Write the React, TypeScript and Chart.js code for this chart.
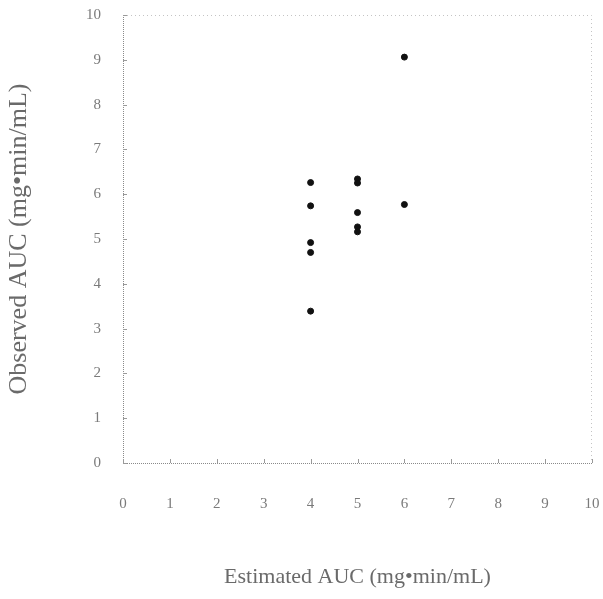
import React, { useEffect, useRef } from "react";
import { Chart, registerables } from "chart.js";

Chart.register(...registerables);

const estimatedAUC = [4, 4, 4, 4, 4, 5, 5, 5, 5, 5, 6, 6];
const observedAUC = [6.26, 5.74, 4.92, 4.7, 3.39, 6.34, 6.25, 5.59, 5.27, 5.16, 9.06, 5.77];
const xTicks = [0, 1, 2, 3, 4, 5, 6, 7, 8, 9, 10];
const yTicks = [0, 1, 2, 3, 4, 5, 6, 7, 8, 9, 10];
const xTitle = "Estimated AUC (mg\u2022min/mL)";
const yTitle = "Observed AUC (mg\u2022min/mL)";

const frame = {
  id: "frame",
  afterDatasetsDraw(chart: any) {
    const { ctx, chartArea, scales } = chart;
    const { left, right, top, bottom } = chartArea;
    ctx.save();
    ctx.lineWidth = 1;
    ctx.setLineDash([1, 1]);
    ctx.strokeStyle = "#8a8a8a";
    ctx.beginPath();
    ctx.moveTo(left + 0.5, top);
    ctx.lineTo(left + 0.5, bottom + 0.5);
    ctx.lineTo(right, bottom + 0.5);
    ctx.stroke();
    ctx.strokeStyle = "#c4c4c4";
    ctx.setLineDash([1, 3]);
    ctx.beginPath();
    ctx.moveTo(left, top + 0.5);
    ctx.lineTo(right - 0.5, top + 0.5);
    ctx.lineTo(right - 0.5, bottom);
    ctx.stroke();
    ctx.setLineDash([]);
    ctx.strokeStyle = "#9a9a9a";
    ctx.beginPath();
    xTicks.forEach((v) => {
      const px = Math.round(scales.x.getPixelForValue(v)) + 0.5;
      ctx.moveTo(px, bottom);
      ctx.lineTo(px, bottom - 4);
    });
    yTicks.forEach((v) => {
      const py = Math.round(scales.y.getPixelForValue(v)) + 0.5;
      ctx.moveTo(left, py);
      ctx.lineTo(left + 4, py);
    });
    ctx.stroke();
    ctx.restore();
  },
};

export default function App() {
  const ref = useRef<HTMLCanvasElement | null>(null);
  useEffect(() => {
    document.body.style.margin = "0";
    const canvas = ref.current;
    if (!canvas) return;
    const chart = new Chart(canvas, {
      type: "scatter",
      data: {
        datasets: [
          {
            data: estimatedAUC.map((x, i) => ({ x, y: observedAUC[i] })),
            backgroundColor: "#111",
            borderColor: "#111",
            pointRadius: 3,
            pointHoverRadius: 3,
          },
        ],
      },
      options: {
        animation: false,
        responsive: false,
        devicePixelRatio: 1,
        layout: { padding: { top: 15, right: 11, left: 0, bottom: 0 } },
        plugins: { legend: { display: false }, tooltip: { enabled: false } },
        scales: {
          x: {
            type: "linear",
            min: 0,
            max: 10,
            afterBuildTicks: (s: any) => {
              s.ticks = xTicks.map((v) => ({ value: v }));
            },
            afterFit: (s: any) => {
              s.height = 136;
              s.paddingLeft = 0;
              s.paddingRight = 0;
            },
            grid: { display: false, drawTicks: false },
            border: { display: false },
            ticks: {
              padding: 32,
              color: "#7a7a7a",
              font: { family: "'Liberation Serif', serif", size: 15 },
            },
            title: {
              display: true,
              text: xTitle,
              color: "#6a6a6a",
              font: { family: "'Liberation Serif', serif", size: 22, weight: "normal" },
              padding: { top: 0, bottom: 9 },
            },
          },
          y: {
            type: "linear",
            min: 0,
            max: 10,
            afterBuildTicks: (s: any) => {
              s.ticks = yTicks.map((v) => ({ value: v }));
            },
            afterFit: (s: any) => {
              s.width = 123;
              s.paddingTop = 0;
              s.paddingBottom = 0;
            },
            grid: { display: false, drawTicks: false },
            border: { display: false },
            ticks: {
              padding: 22,
              color: "#7a7a7a",
              font: { family: "'Liberation Serif', serif", size: 15 },
            },
            title: {
              display: true,
              text: yTitle,
              color: "#6a6a6a",
              font: { family: "'Liberation Serif', serif", size: 26, weight: "normal" },
              padding: { top: 4, bottom: 0 },
            },
          },
        },
      },
      plugins: [frame],
    });
    return () => chart.destroy();
  }, []);
  return <canvas ref={ref} width={603} height={599} style={{ display: "block" }} />;
}
